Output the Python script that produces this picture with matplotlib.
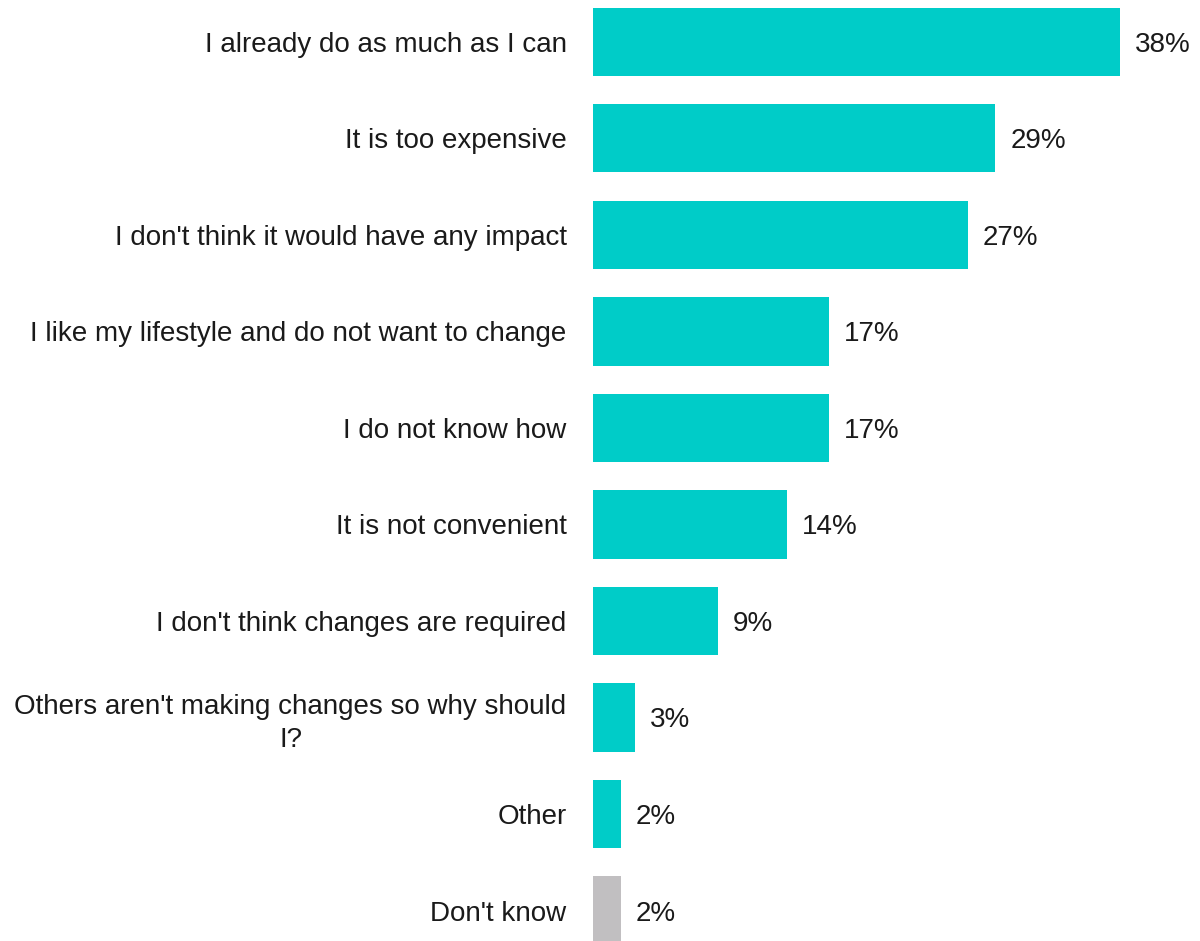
import matplotlib
matplotlib.use("Agg")
import matplotlib.pyplot as plt
from matplotlib.transforms import offset_copy

plt.rcParams["font.family"] = ["Liberation Sans", "DejaVu Sans"]

reasons = [
    "I already do as much as I can",
    "It is too expensive",
    "I don't think it would have any impact",
    "I like my lifestyle and do not want to change",
    "I do not know how",
    "It is not convenient",
    "I don't think changes are required",
    "Others aren't making changes so why should\nI?",
    "Other",
    "Don't know",
]
shares = [38, 29, 27, 17, 17, 14, 9, 3, 2, 2]
colors = ["#00CCC8"] * 9 + ["#C1BFC1"]

fig = plt.figure(figsize=(12, 9.41), dpi=100)
ax = fig.add_axes([593 / 1200, 0, 607 / 1200, 1])

ypos = list(range(len(reasons)))
ax.barh(ypos, shares, height=0.705, color=colors)
ax.set_xlim(0, 43.76)
ax.set_ylim(9.316, -0.435)

ax.set_yticks(ypos)
ax.set_yticklabels(reasons, fontsize=20, color="#1a1a1a", ha="right",
                   multialignment="center", linespacing=1.35)
ax.tick_params(axis="y", length=0, pad=19)
ax.set_xticks([])
for s in ax.spines.values():
    s.set_visible(False)

# value labels just past the bar ends
trans = offset_copy(ax.transData, fig=fig, x=15, y=-3, units="dots")
for y, v in zip(ypos, shares):
    ax.text(v, y, f"{v}%", transform=trans, va="center", ha="left",
            fontsize=20, color="#1a1a1a")

fig.savefig("out.png", dpi=100)
